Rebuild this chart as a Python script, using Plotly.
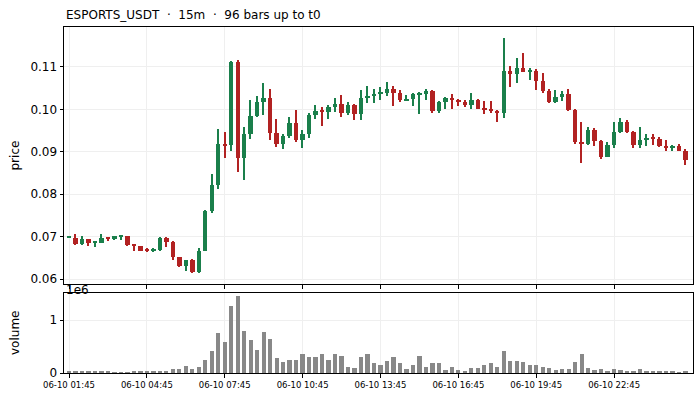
import pandas as pd
import plotly.graph_objects as go

# 96 bars of 15m candles for ESPORTS_USDT
times = pd.date_range("2025-06-10 01:45", periods=96, freq="15min")

opens = [
    0.0698, 0.0696, 0.0683, 0.0694, 0.0687, 0.0685, 0.0698, 0.0695, 0.0700, 0.0701,
    0.0681, 0.0678, 0.0670, 0.0667, 0.0669, 0.0697, 0.0687, 0.0652, 0.0631, 0.0645,
    0.0617, 0.0666, 0.0760, 0.0822, 0.0918, 0.0915, 0.1112, 0.0886, 0.0942, 0.0984,
    0.1018, 0.1027, 0.0944, 0.0919, 0.0937, 0.0968, 0.0929, 0.0942, 0.0987, 0.0997,
    0.0995, 0.1006, 0.1013, 0.0992, 0.1010, 0.0990, 0.1027, 0.1032, 0.1037, 0.1039,
    0.1047, 0.1039, 0.1022, 0.1024, 0.1035, 0.1036, 0.1043, 0.0997, 0.1017, 0.1027,
    0.1021, 0.1018, 0.1011, 0.1022, 0.1002, 0.1000, 0.0997, 0.0992, 0.1091, 0.1084,
    0.1098, 0.1089, 0.1091, 0.1067, 0.1043, 0.1018, 0.1030, 0.1036, 0.0999, 0.0923,
    0.0919, 0.0951, 0.0925, 0.0888, 0.0916, 0.0947, 0.0970, 0.0947, 0.0916, 0.0928,
    0.0933, 0.0930, 0.0914, 0.0910, 0.0914, 0.0902,
]
highs = [
    0.0702, 0.0705, 0.0701, 0.0695, 0.0690, 0.0705, 0.0699, 0.0702, 0.0703, 0.0702,
    0.0681, 0.0679, 0.0673, 0.0672, 0.0698, 0.0699, 0.0690, 0.0653, 0.0646, 0.0647,
    0.0672, 0.0763, 0.0847, 0.0954, 0.0946, 0.1115, 0.1116, 0.0958, 0.1021, 0.1032,
    0.1062, 0.1047, 0.0977, 0.0941, 0.0981, 0.0999, 0.0951, 0.0991, 0.1010, 0.1005,
    0.1010, 0.1026, 0.1033, 0.1017, 0.1012, 0.1045, 0.1055, 0.1048, 0.1053, 0.1064,
    0.1055, 0.1045, 0.1035, 0.1038, 0.1041, 0.1048, 0.1045, 0.1019, 0.1030, 0.1036,
    0.1024, 0.1021, 0.1039, 0.1024, 0.1019, 0.1020, 0.0999, 0.1168, 0.1102, 0.1121,
    0.1133, 0.1098, 0.1095, 0.1086, 0.1048, 0.1045, 0.1044, 0.1048, 0.1000, 0.0970,
    0.0958, 0.0955, 0.0927, 0.0923, 0.0970, 0.0979, 0.0975, 0.0948, 0.0958, 0.0942,
    0.0943, 0.0934, 0.0928, 0.0915, 0.0918, 0.0907,
]
lows = [
    0.0696, 0.0681, 0.0681, 0.0679, 0.0675, 0.0684, 0.0690, 0.0692, 0.0692, 0.0679,
    0.0665, 0.0666, 0.0664, 0.0664, 0.0666, 0.0675, 0.0646, 0.0628, 0.0619, 0.0614,
    0.0614, 0.0665, 0.0756, 0.0812, 0.0885, 0.0902, 0.0852, 0.0833, 0.0930, 0.0983,
    0.0986, 0.0929, 0.0911, 0.0906, 0.0933, 0.0922, 0.0908, 0.0933, 0.0977, 0.0962,
    0.0978, 0.0994, 0.0983, 0.0987, 0.0974, 0.0974, 0.1015, 0.1016, 0.1021, 0.1031,
    0.1009, 0.1018, 0.1019, 0.1009, 0.0988, 0.1021, 0.0992, 0.0991, 0.1002, 0.1001,
    0.1008, 0.1005, 0.1001, 0.1001, 0.0988, 0.0991, 0.0971, 0.0979, 0.1052, 0.1062,
    0.1088, 0.1069, 0.1045, 0.1038, 0.1014, 0.1015, 0.1019, 0.0996, 0.0918, 0.0874,
    0.0915, 0.0914, 0.0884, 0.0888, 0.0908, 0.0944, 0.0945, 0.0910, 0.0910, 0.0913,
    0.0917, 0.0912, 0.0901, 0.0902, 0.0902, 0.0869,
]
closes = [
    0.0700, 0.0683, 0.0694, 0.0686, 0.0689, 0.0697, 0.0695, 0.0701, 0.0702, 0.0681,
    0.0680, 0.0667, 0.0668, 0.0669, 0.0697, 0.0688, 0.0652, 0.0631, 0.0645, 0.0617,
    0.0666, 0.0760, 0.0822, 0.0918, 0.0915, 0.1112, 0.0886, 0.0942, 0.0984, 0.1017,
    0.1027, 0.0945, 0.0919, 0.0937, 0.0968, 0.0929, 0.0942, 0.0987, 0.0996, 0.0995,
    0.1006, 0.1013, 0.0992, 0.1010, 0.0990, 0.1027, 0.1032, 0.1037, 0.1039, 0.1048,
    0.1039, 0.1022, 0.1024, 0.1036, 0.1037, 0.1043, 0.0997, 0.1017, 0.1027, 0.1021,
    0.1019, 0.1010, 0.1022, 0.1002, 0.1000, 0.0998, 0.0992, 0.1091, 0.1084, 0.1098,
    0.1089, 0.1091, 0.1068, 0.1044, 0.1018, 0.1029, 0.1036, 0.0999, 0.0924, 0.0919,
    0.0951, 0.0926, 0.0888, 0.0915, 0.0947, 0.0970, 0.0947, 0.0916, 0.0928, 0.0933,
    0.0932, 0.0914, 0.0910, 0.0914, 0.0903, 0.0881,
]
# volume in units of 1e6
volumes = [
    0.025, 0.045, 0.045, 0.025, 0.025, 0.025, 0.025, 0.002, 0.002, 0.002,
    0.045, 0.025, 0.025, 0.025, 0.045, 0.045, 0.08, 0.08, 0.14, 0.08,
    0.12, 0.25, 0.42, 0.76, 0.59, 1.27, 1.46, 0.80, 0.63, 0.44,
    0.78, 0.65, 0.29, 0.21, 0.25, 0.25, 0.35, 0.31, 0.31, 0.36,
    0.25, 0.35, 0.33, 0.12, 0.10, 0.31, 0.35, 0.18, 0.16, 0.23,
    0.31, 0.18, 0.08, 0.16, 0.33, 0.12, 0.19, 0.18, 0.06, 0.12,
    0.06, 0.045, 0.10, 0.10, 0.16, 0.18, 0.12, 0.42, 0.23, 0.23,
    0.21, 0.16, 0.16, 0.12, 0.10, 0.06, 0.08, 0.08, 0.21, 0.36,
    0.10, 0.06, 0.08, 0.045, 0.08, 0.06, 0.025, 0.045, 0.08, 0.045,
    0.045, 0.025, 0.045, 0.025, 0.002, 0.045,
]

GREEN = "#1a7f4b"
RED = "#b22222"
GRID = "#efefef"
BAR_MS = 15 * 60 * 1000

colors = [GREEN if c >= o else RED for o, c in zip(opens, closes)]
body_base = [min(o, c) for o, c in zip(opens, closes)]
body_h = [max(abs(c - o), 0.00015) for o, c in zip(opens, closes)]
wick_h = [h - l for h, l in zip(highs, lows)]

fig = go.Figure()

# wicks
fig.add_trace(go.Bar(
    x=times, y=wick_h, base=lows, width=0.22 * BAR_MS,
    marker=dict(color=colors, line=dict(width=0)),
    xaxis="x", yaxis="y", hoverinfo="skip",
))
# bodies
fig.add_trace(go.Bar(
    x=times, y=body_h, base=body_base, width=0.68 * BAR_MS,
    marker=dict(color=colors, line=dict(width=0)),
    xaxis="x", yaxis="y",
))
# volume
fig.add_trace(go.Bar(
    x=times, y=volumes, width=0.66 * BAR_MS,
    marker=dict(color="#888888", line=dict(width=0)),
    xaxis="x2", yaxis="y2",
))

x_range = [times[0] - pd.Timedelta(minutes=15 * 0.77), times[-1] + pd.Timedelta(minutes=15 * 1.16)]
tick_times = list(times[::12])
tick_text = [t.strftime("%m-%d %H:%M") for t in tick_times]

axis_common = dict(
    showline=True, linecolor="black", linewidth=1, mirror=True,
    ticks="outside", ticklen=3.5, tickcolor="black", tickwidth=1,
    showgrid=True, gridcolor=GRID, gridwidth=0.8, zeroline=False,
)

fig.update_layout(
    width=700, height=400,
    margin=dict(l=64, r=7, t=27, b=27),
    paper_bgcolor="white", plot_bgcolor="white",
    showlegend=False, barmode="overlay", bargap=0,
    font=dict(family="DejaVu Sans", size=12, color="black"),
    xaxis=dict(
        domain=[0, 1], anchor="y", type="date", range=x_range,
        tickvals=tick_times, showticklabels=False, **axis_common,
    ),
    yaxis=dict(
        domain=[0.2572, 1], anchor="x", range=[0.05882, 0.11943],
        tickvals=[0.06, 0.07, 0.08, 0.09, 0.10, 0.11],
        ticktext=["0.06", "0.07", "0.08", "0.09", "0.10", "0.11"],
        tickfont=dict(size=12), **axis_common,
    ),
    xaxis2=dict(
        domain=[0, 1], anchor="y2", type="date", range=x_range, matches="x",
        tickvals=tick_times, ticktext=tick_text,
        tickfont=dict(size=8.5), **axis_common,
    ),
    yaxis2=dict(
        domain=[0, 0.2312], anchor="x2", range=[0, 1.51],
        tickvals=[0, 1], ticktext=["0", "1"],
        tickfont=dict(size=12), **axis_common,
    ),
    annotations=[
        dict(text="ESPORTS_USDT  ·  15m  ·  96 bars up to t0", xref="paper", yref="paper",
             x=0, y=1, xanchor="left", yanchor="bottom", yshift=3, showarrow=False,
             font=dict(size=12)),
        dict(text="price", xref="paper", yref="paper", x=-0.0779, y=0.6286,
             xanchor="center", yanchor="middle", textangle=-90, showarrow=False,
             font=dict(size=12)),
        dict(text="volume", xref="paper", yref="paper", x=-0.0779, y=0.1156,
             xanchor="center", yanchor="middle", textangle=-90, showarrow=False,
             font=dict(size=12)),
        dict(text="1e6", xref="paper", yref="paper", x=0, y=0.2312,
             xanchor="left", yanchor="bottom", yshift=-6, showarrow=False,
             font=dict(size=12)),
    ],
)

# drop the default page margin so the figure sits at the window origin
fig.write_html(
    "out.html",
    config={"displayModeBar": False},
    post_script="document.body.style.margin='0';",
)
